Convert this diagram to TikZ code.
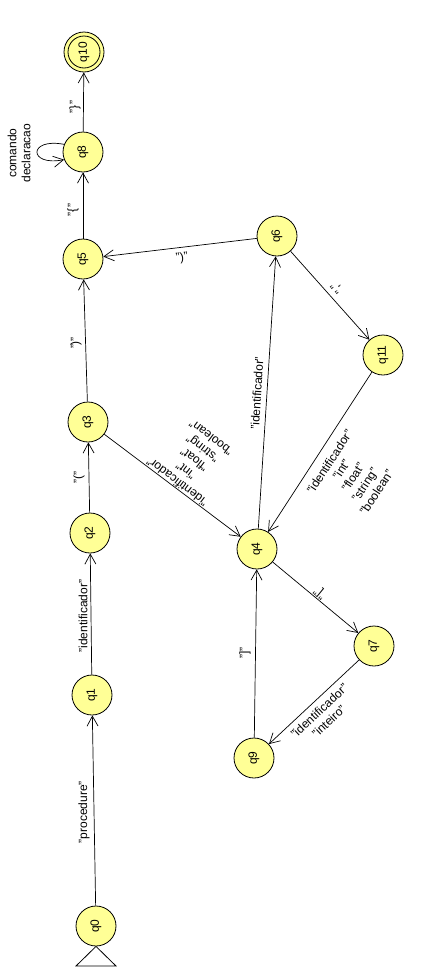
\documentclass[tikz,border=0pt]{standalone}
\usepackage{fontspec}
\setmainfont{Liberation Sans}
\usepackage{graphicx}
\usetikzlibrary{arrows.meta}
\definecolor{statefill}{RGB}{255,255,150}
\begin{document}
\begin{tikzpicture}[x=1pt,y=-1pt,
  state/.style={circle,draw,fill=statefill,minimum size=40pt,inner sep=0pt,
    line width=0.8pt,font=\fontsize{12}{14}\selectfont},
  trans/.style={draw,line width=0.7pt,-{Straight Barb[length=10pt,width=11pt]}},
  lbl/.style={font=\fontsize{12}{14}\selectfont,align=center,inner sep=1pt}]
\useasboundingbox (0,0) rectangle (437,980);

% states
\node[state] (q0)  at (96,926)  {\rotatebox{90}{q0}};
\node[state] (q1)  at (92,695)  {\rotatebox{90}{q1}};
\node[state] (q2)  at (90,533)  {\rotatebox{90}{q2}};
\node[state] (q3)  at (88,422)  {\rotatebox{90}{q3}};
\node[state] (q5)  at (83,259)  {\rotatebox{90}{q5}};
\node[state] (q8)  at (83,152)  {\rotatebox{90}{q8}};
\node[state] (q10) at (84,52)   {\rotatebox{90}{q10}};
\draw[line width=0.8pt] (q10.center) circle (16pt);
\node[state] (q6)  at (277,236) {\rotatebox{90}{q6}};
\node[state] (q11) at (383,355) {\rotatebox{90}{q11}};
\node[state] (q4)  at (257,549) {\rotatebox{90}{q4}};
\node[state] (q7)  at (374,646) {\rotatebox{90}{q7}};
\node[state] (q9)  at (254,758) {\rotatebox{90}{q9}};

% initial marker
\draw[line width=0.8pt,fill=white] (q0.south) -- (76,966) -- (116,966) -- cycle;

% transitions
\draw[trans] (q0) -- (q1);
\draw[trans] (q1) -- (q2);
\draw[trans] (q2) -- (q3);
\draw[trans] (q3) -- (q5);
\draw[trans] (q5) -- (q8);
\draw[trans] (q8) -- (q10);
\draw[trans] (q8.158) .. controls +(-36,-7) and +(-36,7) .. (q8.202);
\draw[trans] (q6) -- (q5);
\draw[trans] (q4) -- (q6);
\draw[trans] (q6) -- (q11);
\draw[trans] (q11) -- (q4);
\draw[trans] (q3) -- (q4);
\draw[trans] (q4) -- (q7);
\draw[trans] (q7) -- (q9);
\draw[trans] (q9) -- (q4);

% transition labels
\node[lbl,rotate=90] (l01) at (84,812) {"procedure"};
\node[lbl,rotate=90] (l12) at (83,616) {"identificador"};
\node[lbl,rotate=90] (l23) at (79,477) {"("};
\node[lbl,rotate=90] (l35) at (76,343) {")"};
\node[lbl,rotate=90] (l58) at (73,210) {"\{"};
\node[lbl,rotate=90] (l810) at (75,107) {"\}"};
\node[lbl,rotate=90] (l88) at (19,153) {comando\\declaracao};
\node[lbl,rotate=7] (l65) at (182,258) {")"};
\node[lbl,rotate=86.4] (l46) at (257,393) {"identificador"};
\node[lbl,rotate=131.7] (l611) at (337,288) {","};
\node[lbl,rotate=56.9] (l114) at (353,477) {"identificador"\\"int"\\"float"\\"string"\\"boolean"};
\node[lbl,rotate=142.9] (l34) at (194,460) {"identificador"\\"int"\\"float"\\"string"\\"boolean"};
\node[lbl,rotate=140.6] (l47) at (320,593) {"["};
\node[lbl,rotate=43] (l79) at (324,716) {"identificador"\\"inteiro"};
\node[lbl,rotate=90] (l94) at (245,653) {"]"};
\end{tikzpicture}
\end{document}
